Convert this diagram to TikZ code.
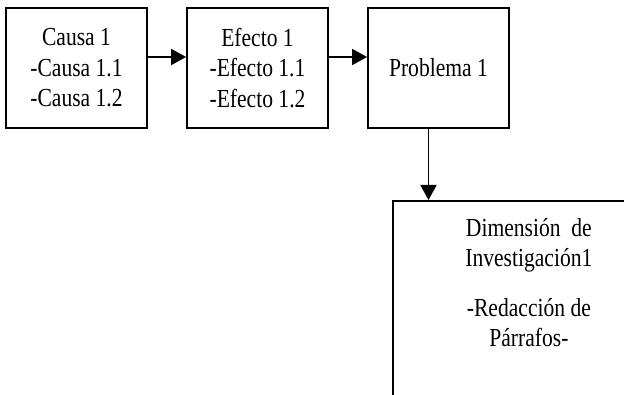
\documentclass[tikz,border=0pt]{standalone}
\usepackage{fontspec}
\setmainfont{Liberation Serif}[FakeStretch=0.83]
\usetikzlibrary{arrows.meta}

\begin{document}
\begin{tikzpicture}[x=1pt, y=-1pt,
    caja/.style={draw, line width=1.8pt, minimum width=141pt, minimum height=120pt,
        align=center, font=\fontsize{26}{30.5}\selectfont},
    flecha/.style={line width=1.8pt, -{Triangle[length=15pt, width=16pt]}}]
    \useasboundingbox (0,0) rectangle (624,395);
    \clip (0,0) rectangle (624,395);

    % Top row: cause, effect, problem
    \node[caja] (causa) at (76.5, 68) {Causa 1\\-Causa 1.1\\-Causa 1.2};
    \node[caja] (efecto) at (257.5, 68) {Efecto 1\\-Efecto 1.1\\-Efecto 1.2};
    \node[caja] (problema) at (438.5, 68) {Problema 1};

    \draw[flecha] ([yshift=11pt]causa.east) -- ([yshift=11pt]efecto.west);
    \draw[flecha] ([yshift=11pt]efecto.east) -- ([yshift=11pt]problema.west);

    % Dimension box, runs off the page
    \node[draw, line width=1.8pt, anchor=north west, minimum width=272pt,
        minimum height=250pt] (dim) at (392, 200) {};
    \node[anchor=north, inner sep=0pt, align=center,
        font=\fontsize{26}{30}\selectfont] (dimtexto) at ([yshift=-18pt]dim.north)
        {Dimensión\ \ de\\Investigación1\\[20pt]-Redacción de\\Párrafos-};

    \draw[flecha] ([xshift=-10pt]problema.south) -- ([xshift=-10pt]problema.south |- dim.north);
\end{tikzpicture}
\end{document}
